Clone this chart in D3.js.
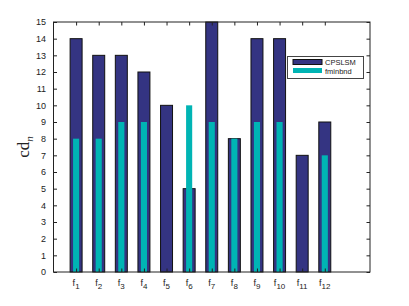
<!DOCTYPE html>
<html><head><meta charset="utf-8">
<script src="https://cdn.jsdelivr.net/npm/d3@7"></script>
<style>body{margin:0;background:#fff}svg{display:block}</style>
</head><body><svg id="c" width="409" height="306"></svg>
<script>
const categories = ["1","2","3","4","5","6","7","8","9","10","11","12"];
const cpslsm = [14,13,13,12,10,5,15,8,14,14,7,9];
const fminbnd = [8,8,9,9,0,10,9,8,9,9,0,7];
const yTicks = d3.range(0,16);
const seriesNames = ["CPSLSM","fminbnd"];
const colors = ["#343482","#00b4b4"];

const svg = d3.select("#c");
const L=53.5, R=370, T=22, B=272;
const x = d3.scaleLinear().domain([0,14]).range([L,R]);
const y = d3.scaleLinear().domain([0,15]).range([B,T]);
const fnt = "Liberation Sans, Arial, sans-serif";

// bars
const gw = 0.53, nw = 0.27;
svg.append("g").selectAll("rect").data(cpslsm).join("rect")
  .attr("x",(d,i)=>x(i+1-gw/2)).attr("width",x(gw)-x(0))
  .attr("y",d=>y(d)).attr("height",d=>y(0)-y(d))
  .attr("fill",colors[0]).attr("stroke","#111").attr("stroke-width",1);
svg.append("g").selectAll("rect").data(fminbnd).join("rect")
  .attr("x",(d,i)=>x(i+1-nw/2)).attr("width",x(nw)-x(0))
  .attr("y",d=>y(d)).attr("height",d=>y(0)-y(d))
  .attr("fill",colors[1]);

// axes box
const ax = "#222";
svg.append("rect").attr("x",L).attr("y",T).attr("width",R-L).attr("height",B-T)
  .attr("fill","none").attr("stroke",ax).attr("stroke-width",1);
const tl=3.5;
const gL = svg.append("g").attr("transform",`translate(${L},0)`)
  .call(d3.axisLeft(y).tickValues(yTicks).tickSizeInner(-tl).tickSizeOuter(0).tickPadding(4+tl));
const gR = svg.append("g").attr("transform",`translate(${R},0)`)
  .call(d3.axisRight(y).tickValues(yTicks).tickSizeInner(-tl).tickSizeOuter(0).tickFormat(""));
const xTickVals = categories.map((c,i)=>i+1);
const gB = svg.append("g").attr("transform",`translate(0,${B})`)
  .call(d3.axisBottom(x).tickValues(xTickVals).tickSizeInner(-tl).tickSizeOuter(0).tickFormat(""));
const gT = svg.append("g").attr("transform",`translate(0,${T})`)
  .call(d3.axisTop(x).tickValues(xTickVals).tickSizeInner(-tl).tickSizeOuter(0).tickFormat(""));
[gL,gR,gB,gT].forEach(g=>{g.select(".domain").remove();g.selectAll("line").attr("stroke",ax);});
gL.selectAll("text").attr("font-family",fnt).attr("font-size",9).attr("fill","#222");

// x labels with subscripts
const xl = svg.append("g");
categories.forEach((c,i)=>{
  const t = xl.append("text").attr("x",x(i+1)).attr("y",B+14)
    .attr("text-anchor","middle").attr("font-family",fnt).attr("font-size",9).attr("fill","#222");
  t.append("tspan").text("f");
  t.append("tspan").attr("dy",3).attr("font-size",8).text(c);
});

// y label
const yl = svg.append("text").attr("transform",`translate(29,${(T+B)/2}) rotate(-90)`)
  .attr("text-anchor","middle").attr("font-family","Liberation Serif, Times New Roman, serif")
  .attr("font-size",17).attr("fill","#222");
yl.append("tspan").text("cd");
yl.append("tspan").attr("dy",4).attr("font-size",11).attr("font-style","italic").text("n");

// legend
const lg = svg.append("g");
lg.append("rect").attr("x",287.5).attr("y",56.5).attr("width",76).attr("height",22)
  .attr("fill","#fff").attr("stroke","#444").attr("stroke-width",1);
seriesNames.forEach((s,i)=>{
  lg.append("rect").attr("x",293).attr("y",59.5+i*8.5).attr("width",29).attr("height",5)
    .attr("fill",colors[i]).attr("stroke",i==0?"#111":"none").attr("stroke-width",1);
  lg.append("text").attr("x",325).attr("y",65+i*8.5).attr("font-family",fnt).attr("font-size",7.5)
    .attr("fill","#222").text(s);
});
</script></body></html>
